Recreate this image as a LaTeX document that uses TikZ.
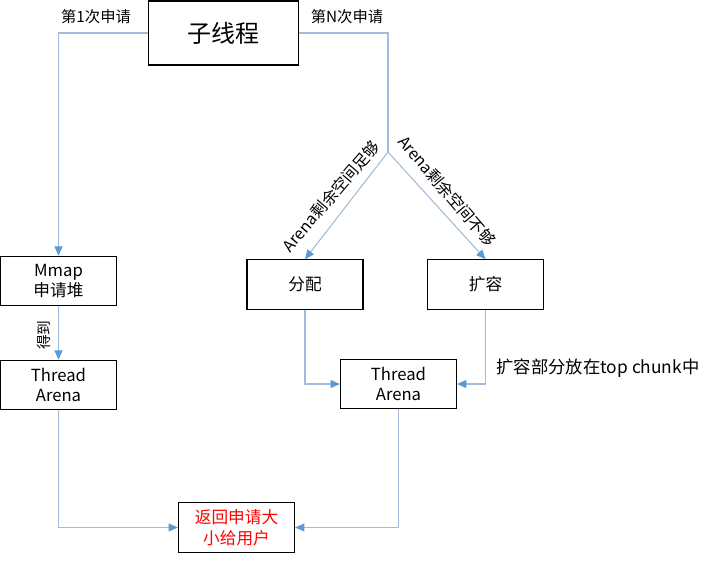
\documentclass[tikz,border=0pt]{standalone}
\usepackage{fontspec}
\setmainfont{Noto Sans CJK SC}
\usetikzlibrary{arrows.meta,positioning}
\definecolor{linkblue}{RGB}{160,188,218}
\definecolor{tipblue}{RGB}{91,155,213}
\definecolor{retred}{RGB}{255,0,0}
\tikzset{
  box/.style={draw=black, line width=0.9pt, minimum width=87pt, minimum height=37pt,
    align=center, inner sep=1pt, font=\fontsize{12.5}{15.5}\selectfont},
  link/.style={draw=linkblue, line width=0.8pt,
    -{Triangle[length=7pt,width=6pt,color=tipblue,fill=tipblue]}},
  lbl/.style={font=\fontsize{11.5}{13}\selectfont, inner sep=1pt}
}
\begin{document}
\begin{tikzpicture}[x=0.75pt,y=-0.75pt]
        \useasboundingbox (0,0) rectangle (720,562);

        % top
        \node[box, minimum width=113pt, minimum height=48pt,
          font=\fontsize{18}{21}\selectfont] (child) at (223.5,33) {子线程};
        \coordinate (split) at (388,152);

        % left column
        \node[box] (mmap) at (58.5,281) {Mmap\\申请堆};
        \node[box] (arenaL) at (58.5,385) {Thread\\Arena};

        % right column
        \node[box] (alloc) at (305,284.5) {分配};
        \node[box] (expand) at (485.5,284.5) {扩容};
        \node[box] (arenaR) at (398.5,384) {Thread\\Arena};

        % result
        \node[box, text=retred] (ret) at (236.5,527.5) {返回申请大\\小给用户};

        \draw[link] (child.west) -| (mmap.north);
        \draw[draw=linkblue, line width=0.8pt] (child.east) -| (split);
        \draw[link] (split) -- (alloc.north);
        \draw[link] (split) -- (expand.north);
        \draw[link] (mmap.south) -- (arenaL.north);
        \draw[link] (alloc.south) |- (arenaR.west);
        \draw[link] (expand.south) |- (arenaR.east);
        \draw[link] (arenaL.south) |- (ret.west);
        \draw[link] (arenaR.south) |- (ret.east);

        % labels
        \node[lbl] (first) at (96,17) {第1次申请};
        \node[lbl] (nth) at (347,17) {第N次申请};
        \node[lbl, font=\fontsize{12}{14}\selectfont, rotate=49.5] (enough) at (331,196) {Arena剩余空间足够};
        \node[lbl, font=\fontsize{12}{14}\selectfont, rotate=-49.5] (short) at (447,191) {Arena剩余空间不够};
        \node[lbl, font=\fontsize{11}{13}\selectfont, rotate=90] (got) at (44,335) {得到};
        \node[lbl, font=\fontsize{13}{15}\selectfont, anchor=west] (topchunk) at (495,368) {扩容部分放在top chunk中};
\end{tikzpicture}
\end{document}
